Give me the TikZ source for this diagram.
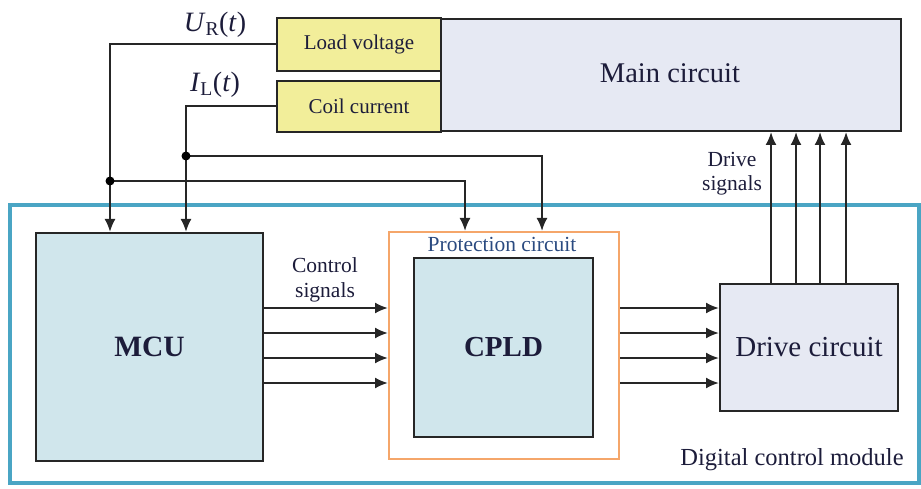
\documentclass[tikz,border=0pt]{standalone}
\usepackage{fontspec}
\setmainfont{Liberation Serif}
\usetikzlibrary{arrows.meta}
\definecolor{mainfill}{HTML}{E6E9F3}
\definecolor{yel}{HTML}{F2EE9A}
\definecolor{blk}{HTML}{D0E6EC}
\definecolor{teal2}{HTML}{4AA5C4}
\definecolor{orng}{HTML}{F5A66A}
\definecolor{txt}{HTML}{1C1C3A}
\definecolor{ptxt}{HTML}{2A4A80}
\tikzset{
  box/.style={draw=black!85, line width=2pt, inner sep=0pt, anchor=north west, text=txt},
  sig/.style={line width=2pt, draw=black!85, -{Latex[length=13pt,width=11pt]}},
  dot/.style={circle, fill=black, inner sep=0pt, minimum size=9pt},
  lbl/.style={text=txt, inner sep=0pt, align=center},
}
\begin{document}
\begin{tikzpicture}[x=1pt,y=-1pt]
\useasboundingbox (0,0) rectangle (921,489);
% outer module
\draw[teal2, line width=3.5pt] (10,205) rectangle (919,483);
\node[lbl, font=\fontsize{24.5}{28}\selectfont] (dcm) at (792,460) {Digital control module};
% main circuit
\node[box, fill=mainfill, minimum width=460pt, minimum height=112pt] (main) at (440,18) {};
\node[lbl, font=\fontsize{28.5}{32}\selectfont] (maintxt) at (670,73) {Main circuit};
\node[box, fill=yel, minimum width=164pt, minimum height=53pt, font=\fontsize{21}{24}\selectfont] (load) at (276,17) {Load voltage};
\node[box, fill=yel, minimum width=164pt, minimum height=51pt, font=\fontsize{21}{24}\selectfont] (coil) at (276,80) {Coil current};
% labels
\node[lbl, font=\fontsize{28}{32}\selectfont] (ur) at (215,25) {\textit{U}\textsubscript{R}(\textit{t})};
\node[lbl, font=\fontsize{28}{32}\selectfont] (il) at (215,85) {\textit{I}\textsubscript{L}(\textit{t})};
% MCU
\node[box, fill=blk, minimum width=227pt, minimum height=228pt, font=\bfseries\fontsize{29.5}{32}\selectfont] (mcu) at (35,232) {MCU};
% protection
\node[draw=orng, line width=2pt, minimum width=230pt, minimum height=227pt, anchor=north west, inner sep=0pt] (prot) at (388,231) {};
\node[text=ptxt, inner sep=0pt, font=\fontsize{21.5}{24}\selectfont] (prottxt) at (502,244) {Protection circuit};
\node[box, fill=blk, minimum width=179pt, minimum height=179pt, font=\bfseries\fontsize{29}{32}\selectfont] (cpld) at (413,257) {CPLD};
% drive
\node[box, fill=mainfill, minimum width=178pt, minimum height=127pt, font=\fontsize{29}{32}\selectfont] (drive) at (719,283) {Drive circuit};
\node[lbl, font=\fontsize{21.5}{25}\selectfont] (ctrl) at (325,280) {Control\\signals};
\node[lbl, font=\fontsize{21.5}{24}\selectfont] (drvs) at (732,174) {Drive\\signals};
% junctions
\coordinate (j1) at (110,181);
\coordinate (j2) at (186,156);
\coordinate (p1) at (465,231);
\coordinate (p2) at (542,231);
\draw[sig] (load.west) -| (j1) -- (j1 |- mcu.north);
\draw[sig] (coil.west) -| (j2) -- (j2 |- mcu.north);
\draw[sig] (j1) -| (p1);
\draw[sig] (j2) -| (p2);
\node[dot] (d1) at (j1) {};
\node[dot] (d2) at (j2) {};
% control signals
\foreach \y in {308,333,358,383}{
  \draw[sig] (mcu.east |- 0,\y) -- (prot.west |- 0,\y);
  \draw[sig] (prot.east |- 0,\y) -- (drive.west |- 0,\y);
}
\foreach \x in {771,796,820,846}{
  \draw[sig] (drive.north -| \x,0) -- (main.south -| \x,0);
}
\end{tikzpicture}
\end{document}
